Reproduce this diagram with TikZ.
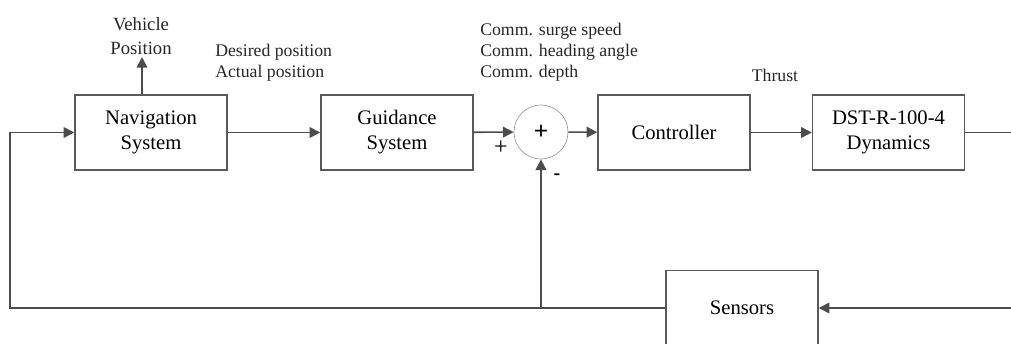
\documentclass[tikz,border=0pt]{standalone}
\usepackage{fontspec}
\setmainfont{Liberation Serif}
\usetikzlibrary{arrows.meta}

\begin{document}
\begin{tikzpicture}[x=0.75pt,y=-0.75pt]
		\tikzset{
			block/.style ={
				rectangle, %方框
				minimum width =114pt, %最小宽度
				minimum height =56pt, %最小高度
				inner sep=0pt,
				align=center,
				draw=black!65, %边框颜色
				line width=1.1pt,
				font=\fontsize{15.5}{18.75}\selectfont
			},
			sumnode/.style ={
				circle,
				minimum size=40.5pt,
				inner sep=0pt,
				draw=black!40,
				line width=0.5pt,
				font=\fontsize{19}{19}\selectfont\bfseries
			},
			lbl/.style ={
				align=left,
				inner sep=0pt,
				text=black!85,
				font=\fontsize{13.3}{15.75}\selectfont
			},
			wire/.style ={
				draw=black!70,
				line width=1.2pt,
				-{Triangle[length=8pt,width=8pt]}
			}
		}
		\useasboundingbox (0,0) rectangle (1011,343);
		% forward path
		\node[block] (nav) at (151,132.5) {Navigation\\System};
		\node[block] (guid) at (397,132.5) {Guidance\\System};
		\node[sumnode] (sum) at (541,132) {+};
		\node[block] (ctrl) at (674,132.5) {Controller};
		\node[block] (dyn) at (888.5,132.5) {DST-R-100-4\\Dynamics};
		\node[block] (sens) at (742,308) {Sensors};
		\coordinate (out) at (1011,132.5);
		\coordinate (in) at (1011,308);
		\coordinate (corner) at (10,308);
		\coordinate (pos) at (142,57);
		\draw[wire] (nav)--(guid);
		\draw[wire] (guid)--(sum);
		\draw[wire] (sum)--(ctrl);
		\draw[wire] (ctrl)--(dyn);
		\draw[wire,-] (dyn)--(out);
		% feedback
		\draw[wire] (in)--(sens);
		\draw[wire] (sens.west)--(corner)|-(nav.west);
		\draw[wire] (sens.west-|sum.south)--(sum.south);
		\draw[wire] (pos|-nav.north)--(pos);
		% labels
		\node[lbl,align=center,anchor=south,font=\fontsize{14}{18}\selectfont] (vp) at (141,55) {Vehicle\\Position};
		\node[lbl,anchor=west] (dp) at (215,62.5) {Desired position\\Actual position};
		\node[lbl,anchor=west] (cm) at (480,52.5) {Comm. surge speed\\Comm. heading angle\\Comm. depth};
		\node[lbl] (th) at (775,75) {Thrust};
		\node[font=\fontsize{18}{18}\selectfont] (pl) at (501,148) {+};
		\node[font=\fontsize{15}{15}\selectfont\bfseries] (mi) at (557,177) {-};
	\end{tikzpicture}
\end{document}
